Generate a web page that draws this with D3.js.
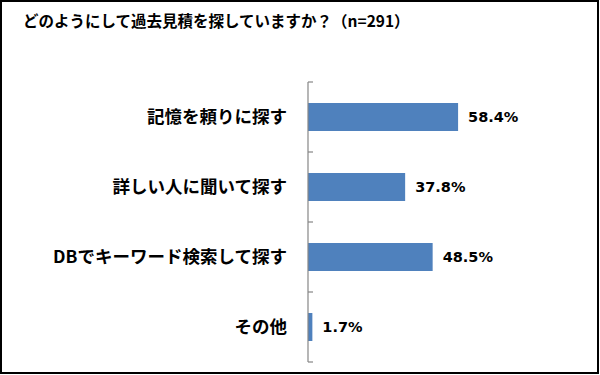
<!DOCTYPE html>
<html><head><meta charset="utf-8">
<script src="https://cdn.jsdelivr.net/npm/d3@7"></script>
<style>body{margin:0;background:#fff}svg{display:block}</style>
</head><body>
<script>
const title = "どのようにして過去見積を探していますか？（n=291）";
const categories = ["記憶を頼りに探す","詳しい人に聞いて探す","DBでキーワード検索して探す","その他"];
const values = [58.4, 37.8, 48.5, 1.7];
const valueLabels = ["58.4%","37.8%","48.5%","1.7%"];

const W = 600, H = 375;
const svg = d3.select("body").append("svg").attr("width", W).attr("height", H);
svg.append("rect").attr("x",1).attr("y",1).attr("width",597).attr("height",372)
  .attr("fill","#fff").attr("stroke","#000").attr("stroke-width",2);

const jp = "'Noto Sans CJK JP','Noto Sans',sans-serif";
svg.append("text").attr("x",23).attr("y",27).text(title)
  .attr("font-family",jp).attr("font-weight","bold").attr("font-size",15.5).attr("fill","#000");

const x = d3.scaleLinear().domain([0,100]).range([308,565]);
const y = d3.scaleBand().domain(categories).range([82,362]).paddingInner(0.6).paddingOuter(0.3);

svg.selectAll("rect.bar").data(categories).enter().append("rect").attr("class","bar")
  .attr("x", x(0)).attr("y", d=>y(d)).attr("height", y.bandwidth())
  .attr("width", (d,i)=>x(values[i])-x(0)).attr("fill","#4F81BD");

// axis
const step = y.step();
const gx = x(0);
const tickYs = categories.map(c => y(c) - step*0.3).concat([y(categories[categories.length-1]) - step*0.3 + step]);
svg.append("line").attr("x1",gx).attr("x2",gx).attr("y1",tickYs[0]).attr("y2",tickYs[tickYs.length-1])
  .attr("stroke","#868686").attr("stroke-width",1.2);
svg.selectAll("line.tick").data(tickYs).enter().append("line").attr("class","tick")
  .attr("x1",gx).attr("x2",gx+5).attr("y1",d=>d).attr("y2",d=>d).attr("stroke","#868686").attr("stroke-width",1.2);

svg.selectAll("text.cat").data(categories).enter().append("text").attr("class","cat")
  .attr("x",287).attr("y",d=>y(d)+y.bandwidth()/2).attr("dy","0.35em")
  .attr("text-anchor","end").attr("font-family",jp).attr("font-weight","bold").attr("font-size",17.5)
  .attr("fill","#000").text(d=>d);

svg.selectAll("text.val").data(categories).enter().append("text").attr("class","val")
  .attr("x",(d,i)=>x(values[i])+10).attr("y",d=>y(d)+y.bandwidth()/2).attr("dy","0.36em")
  .attr("font-family","'DejaVu Sans',Verdana,sans-serif").attr("font-weight","bold").attr("font-size",14.5)
  .attr("fill","#000").text((d,i)=>valueLabels[i]);
</script>
</body></html>
